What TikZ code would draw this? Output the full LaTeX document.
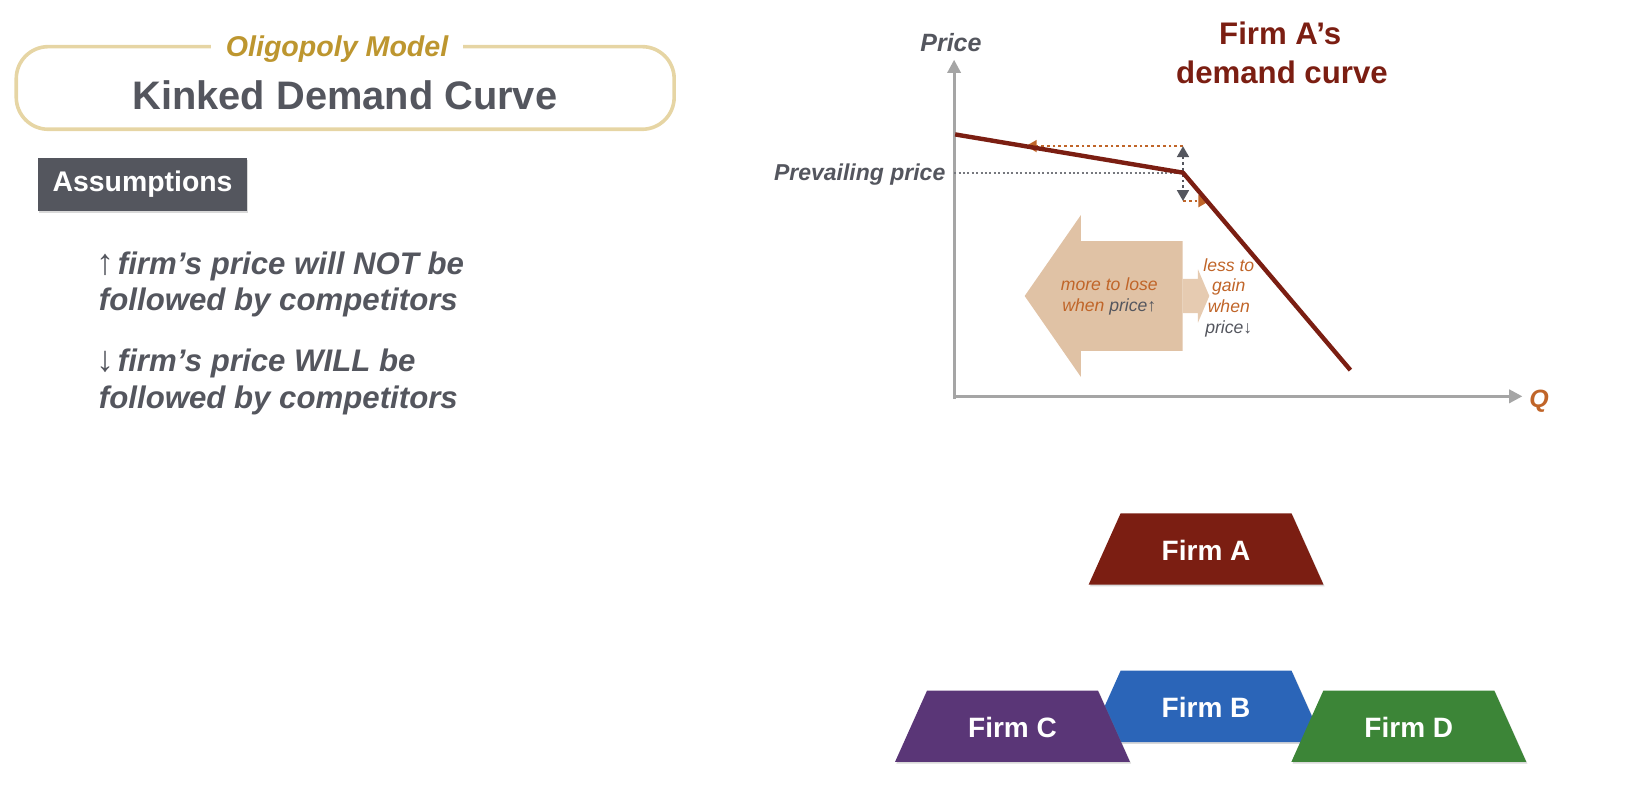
\documentclass[tikz,border=0pt]{standalone}
\usepackage{fontspec}
\setmainfont{Liberation Sans}
\usetikzlibrary{arrows.meta,shadows}

\definecolor{titleTan}{HTML}{E6D5A4}
\definecolor{oligoGold}{HTML}{BD962F}
\definecolor{slate}{HTML}{54565E}
\definecolor{firmRed}{HTML}{7B1E12}
\definecolor{rust}{HTML}{C06529}
\definecolor{sand}{HTML}{E0C2A5}
\definecolor{sandLight}{HTML}{E6CBB1}
\definecolor{firmBlue}{HTML}{2B65B8}
\definecolor{firmPurple}{HTML}{5A3677}
\definecolor{firmGreen}{HTML}{3C8537}
\definecolor{axisGray}{HTML}{A5A5A5}

\tikzset{
  axis/.style={axisGray, line width=1.5pt, -{Triangle[length=6.6pt,width=6.6pt]}},
  demand/.style={firmRed, line width=2.2pt, line join=round},
  hint/.style={line width=1.4pt, dash pattern=on 1.4pt off 1.5pt, >={Triangle[length=5.5pt,width=5.8pt]}},
  bullet/.style={slate, anchor=base west, inner sep=0pt, font=\fontsize{15.6}{18}\selectfont\bfseries\itshape},
  firmlabel/.style={white, inner sep=0pt, font=\fontsize{14}{16}\selectfont\bfseries},
  note/.style={font=\fontsize{8.8}{10.4}\selectfont\itshape, align=center, inner sep=0pt},
  softshadow/.style={drop shadow={shadow xshift=.6pt, shadow yshift=-.9pt, opacity=.3}},
}
\newcommand{\updown}[1]{{\upshape\fontsize{18}{18}\selectfont #1}\kern1.5pt}

\begin{document}
\begin{tikzpicture}[x=0.5242pt, y=-0.5242pt]
  \useasboundingbox (0,0) rectangle (1568,771);

  % title
  \draw[titleTan, line width=1.8pt, rounded corners=16pt] (15.5,44.5) rectangle (643,123.3);
  \node[fill=white, inner xsep=7.5pt, inner ysep=1pt, anchor=base, text=oligoGold,
        font=\fontsize{14.3}{16}\selectfont\bfseries\itshape] (model) at (321.5,54) {Oligopoly Model};
  \node[text=slate, anchor=base, font=\fontsize{19.9}{24}\selectfont\bfseries] (kinked) at (329,104.9) {Kinked Demand Curve};

  % assumptions
  \node[fill=slate, text=white, minimum width=104.3pt, minimum height=26.5pt, text height=.72em, text depth=0pt,
        font=\fontsize{14.2}{16}\selectfont\bfseries, softshadow] (assume) at (136,175.7) {Assumptions};
  \node[bullet] (upA) at (92,261.7) {\updown{↑}firm’s price will NOT be};
  \node[bullet] (upB) at (94,295.7) {followed by competitors};
  \node[bullet] (downA) at (92,354.5) {\updown{↓}firm’s price WILL be};
  \node[bullet] (downB) at (94,389.5) {followed by competitors};

  % axes
  \coordinate (origin) at (910,378);
  \coordinate (ytip) at (910,57);
  \coordinate (xtip) at (1452,378);
  \draw[axis] ([yshift=-1.4]origin) -- (ytip);
  \draw[axis] (origin) -- (xtip);
  \node[text=slate, anchor=base, font=\fontsize{12.5}{14}\selectfont\bfseries\itshape] (priceLbl) at (907,49.3) {Price};
  \node[text=rust, anchor=base, font=\fontsize{12.5}{14}\selectfont\bfseries\itshape] (qLbl) at (1468,389) {Q};

  \node[text=firmRed, anchor=base, font=\fontsize{15.6}{18}\selectfont\bfseries] (curveTitle) at (1221,42.9) {Firm A’s};
  \node[text=firmRed, anchor=base, font=\fontsize{15.6}{18}\selectfont\bfseries] (curveTitleB) at (1222.7,79.5) {demand curve};

  % arrows in the plot
  \fill[sand] (977.3,282.3) -- (1031,205) -- (1031,229.9) -- (1128,229.9) -- (1128,334.7)
    -- (1031,334.7) -- (1031,359.6) -- cycle;
  \fill[sandLight] (1128,266) -- (1142.6,266) -- (1142.6,256.9) -- (1153.4,282.3)
    -- (1142.6,307.7) -- (1142.6,298.6) -- (1128,298.6) -- cycle;
  \node[note, text=rust] (loseNote) at (1058,283) {more to lose\\when {\color{slate}price↑}};
  \node[note, text=rust] (gainNote) at (1172,284) {less to\\gain\\when\\{\color{slate}price↓}};

  % demand curve
  \coordinate (curveTop) at (911,128.2);
  \coordinate (kink) at (1128.3,164.7);
  \coordinate (curveEnd) at (1288,353);
  \coordinate (prevail) at (910,164.7);
  \coordinate (riseStart) at (1128.3,139.3);
  \coordinate (riseEnd) at (978.3,139.3);
  \coordinate (fallStart) at (1128.3,191.8);
  \coordinate (fallEnd) at (1153.5,191.8);
  \draw[slate!80, line width=1pt, dash pattern=on 1pt off 1.2pt] (prevail) -- (kink);
  \node[text=slate, anchor=base east, inner sep=0pt, font=\fontsize{11.5}{13}\selectfont\bfseries\itshape] (prevailLbl) at (902,171.7) {Prevailing price};
  \draw[hint, rust, ->] (riseStart) -- (riseEnd);
  \draw[hint, rust, ->] (fallStart) -- (fallEnd);
  \draw[hint, slate, <->] (riseStart) -- (fallStart);
  \draw[demand] (curveTop) -- (kink) -- (curveEnd);

  % firms
  \foreach \name/\cx/\cy/\col/\lbl in {A/1150.3/523.6/firmRed/Firm A, B/1150.3/673.7/firmBlue/Firm B,
      C/965.7/692.6/firmPurple/Firm C, D/1343.7/692.6/firmGreen/Firm D}{
    \fill[\col, softshadow] (\cx-112,\cy+34) -- (\cx-81.5,\cy-34) -- (\cx+81.5,\cy-34) -- (\cx+112,\cy+34) -- cycle;
    \node[firmlabel] (firm\name) at (\cx,\cy+1) {\lbl};
  }
\end{tikzpicture}
\end{document}
